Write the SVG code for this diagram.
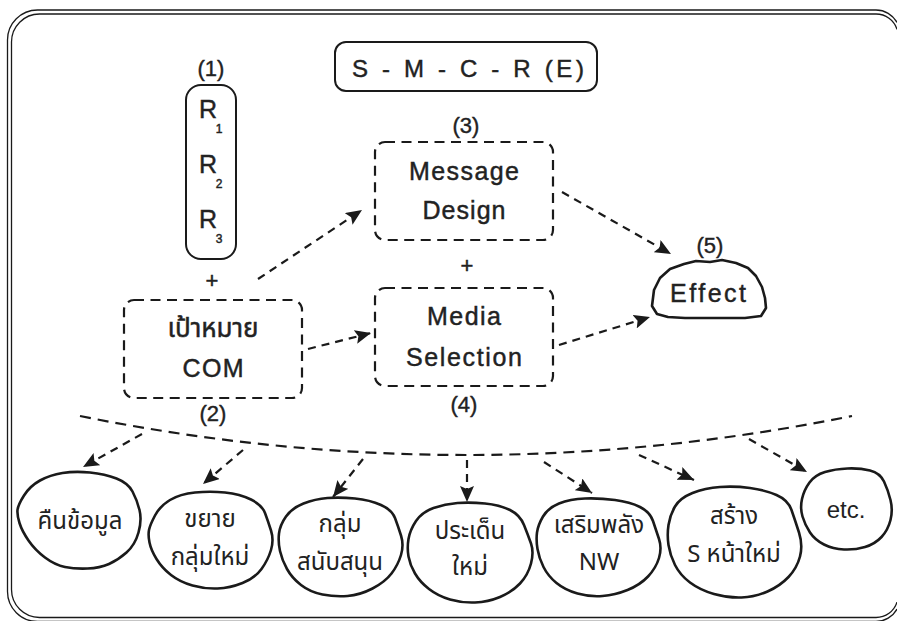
<svg xmlns="http://www.w3.org/2000/svg" width="897" height="621" viewBox="0 0 897 621">
<style>
.frame{fill:none;stroke:#1a1a1a;stroke-width:1.3}
.solid{fill:none;stroke:#1a1a1a;stroke-width:2}
.dbox{fill:none;stroke:#1a1a1a;stroke-width:2.2;stroke-dasharray:10 6.5}
.blob{fill:#fff;stroke:#1a1a1a;stroke-width:2.6;stroke-linejoin:round}
.arr{fill:none;stroke:#1a1a1a;stroke-width:2.2;stroke-dasharray:8 6;marker-end:url(#ah)}
.curve{fill:none;stroke:#1a1a1a;stroke-width:2.2;stroke-dasharray:11 7}
.lat{font-family:"Liberation Sans",Arial,sans-serif;fill:#222;stroke:#222;stroke-width:0.45;text-anchor:middle}
.num{font-family:"Liberation Sans",Arial,sans-serif;fill:#222;stroke:#222;stroke-width:0.4;text-anchor:middle;font-size:22px}
.th{font-family:"Noto Sans Thai","Noto Sans","DejaVu Sans",sans-serif;fill:#222;text-anchor:middle;font-size:24px}
.thb{font-family:"Noto Sans Thai","Noto Sans","DejaVu Sans",sans-serif;fill:#222;stroke:#222;stroke-width:0.5;text-anchor:middle;font-size:26px}
.lt{font-family:"Liberation Sans",Arial,sans-serif;fill:#222;text-anchor:middle;font-size:24px}
</style>
<defs>
<marker id="ah" markerUnits="userSpaceOnUse" markerWidth="17" markerHeight="14" refX="16" refY="7" orient="auto">
<path d="M0,0 L16,7 L0,14 L3,7 Z" fill="#1a1a1a"/>
</marker>
</defs>

<g id="frame">
<path class="frame" d="M897,22.4 A24,24 0 0,0 876,10 L37.5,10 A30,30 0 0,0 7.5,40 L7.5,591.5 A30,30 0 0,0 37.5,621.5 L876,621.5 A24,24 0 0,0 897,609.1"/>
<path class="frame" d="M897,29.4 A22,22 0 0,0 876,14 L39.5,14 A28,28 0 0,0 11.5,42 L11.5,589.5 A28,28 0 0,0 39.5,617.5 L876,617.5 A22,22 0 0,0 897,602.1"/>
</g>

<g id="title">
<rect class="solid" x="335" y="42" width="262" height="49" rx="11"/>
<text class="lat" x="468" y="77" font-size="24" textLength="232" lengthAdjust="spacing">S - M - C - R (E)</text>
</g>

<g id="node1">
<text class="num" x="211" y="76">(1)</text>
<rect class="solid" x="186" y="85" width="50" height="174" rx="15"/>
<text class="lat" x="199" y="118" font-size="25" style="text-anchor:start">R</text>
<text class="lat" x="219" y="133" font-size="12" stroke-width="0.2">1</text>
<text class="lat" x="199" y="173" font-size="25" style="text-anchor:start">R</text>
<text class="lat" x="219" y="188" font-size="12" stroke-width="0.2">2</text>
<text class="lat" x="199" y="228" font-size="25" style="text-anchor:start">R</text>
<text class="lat" x="219" y="243" font-size="12" stroke-width="0.2">3</text>
<text class="lat" x="212" y="288" font-size="22" stroke-width="0.2">+</text>
</g>

<g id="node2">
<rect class="dbox" x="124" y="300" width="178" height="98" rx="10"/>
<text class="thb" x="213" y="337">เป้าหมาย</text>
<text class="lat" x="213" y="377" font-size="25" textLength="61" lengthAdjust="spacing">COM</text>
<text class="num" x="213" y="421">(2)</text>
</g>

<g id="node3">
<text class="num" x="466" y="133">(3)</text>
<rect class="dbox" x="375" y="142" width="178" height="98" rx="10"/>
<text class="lat" x="464" y="180" font-size="25" textLength="110" lengthAdjust="spacing">Message</text>
<text class="lat" x="464" y="219" font-size="25" textLength="83" lengthAdjust="spacing">Design</text>
<text class="lat" x="467" y="273" font-size="22" stroke-width="0.2">+</text>
</g>

<g id="node4">
<rect class="dbox" x="375" y="288" width="178" height="98" rx="10"/>
<text class="lat" x="464" y="325" font-size="25" textLength="74" lengthAdjust="spacing">Media</text>
<text class="lat" x="464" y="366" font-size="25" textLength="116" lengthAdjust="spacing">Selection</text>
<text class="num" x="464" y="412">(4)</text>
</g>

<g id="node5">
<text class="num" x="710" y="253">(5)</text>
<path class="blob" d="M652,306 L654,290 L660,278 L670,269 L684,264 L696,261 L710,262 L722,260 L736,263 L748,268 L756,276 L762,287 L765,298 L766,308 L761,316 L745,318 L725,318 L705,318 L685,318 L668,317 L657,314 Z"/>
<text class="lat" x="708" y="302" font-size="25" textLength="76" lengthAdjust="spacing">Effect</text>
</g>

<g id="connectors">
<line class="arr" x1="258" y1="279" x2="362" y2="210"/>
<line class="arr" x1="308" y1="349" x2="371" y2="333"/>
<line class="arr" x1="562" y1="192" x2="671" y2="254"/>
<line class="arr" x1="559" y1="345" x2="650" y2="317"/>
<path class="curve" d="M80,416 Q466,494 852,416"/>
<line class="arr" x1="142" y1="434" x2="83" y2="467"/>
<line class="arr" x1="243" y1="450" x2="203" y2="484"/>
<line class="arr" x1="363" y1="459" x2="333" y2="497"/>
<line class="arr" x1="467" y1="460" x2="467" y2="502"/>
<line class="arr" x1="544" y1="462" x2="592" y2="493"/>
<line class="arr" x1="639" y1="455" x2="694" y2="480"/>
<line class="arr" x1="749" y1="439" x2="807" y2="472"/>
</g>

<g id="c1">
<path class="blob" d="M17.5,510 Q18,505 24,495.5 Q30,486 40,480.5 Q50,475 62.5,473 Q75,471 90,472.5 Q105,474 116.5,478.5 Q128,483 132.5,491.5 Q137,500 139.5,510 Q142,520 138.5,532.5 Q135,545 126.5,552.5 Q118,560 109,564 Q100,568 87.5,568.5 Q75,569 65,567 Q55,565 45,557.5 Q35,550 28.5,540.5 Q22,531 19.5,523 Q17,515 17.5,510 Z"/>
<text class="th" x="80" y="529">คืนข้อมูล</text>
</g>
<g id="c2">
<path class="blob" d="M149,530 Q150,525 155,515.5 Q160,506 170,500 Q180,494 195,492.5 Q210,491 225,492.5 Q240,494 251,499.5 Q262,505 265,513 Q268,521 271,530.5 Q274,540 271,550 Q268,560 261.5,569 Q255,578 242.5,583 Q230,588 217.5,588.5 Q205,589 192.5,585.5 Q180,582 171,575 Q162,568 156.5,559 Q151,550 149.5,542.5 Q148,535 149,530 Z"/>
<text class="th" x="210" y="527">ขยาย</text>
<text class="th" x="210" y="565">กลุ่มใหม่</text>
</g>
<g id="c3">
<path class="blob" d="M279,533.5 Q280,525 286,516.5 Q292,508 303.5,503.5 Q315,499 327.5,498 Q340,497 355,498.5 Q370,500 381,505 Q392,510 395,518 Q398,526 401,535.5 Q404,545 401,555 Q398,565 391.5,573.5 Q385,582 372.5,588.5 Q360,595 347.5,596 Q335,597 322.5,594.5 Q310,592 301,585 Q292,578 287,569 Q282,560 280,551 Q278,542 279,533.5 Z"/>
<text class="th" x="340" y="532">กลุ่ม</text>
<text class="th" x="340" y="570">สนับสนุน</text>
</g>
<g id="c4">
<path class="blob" d="M408.5,539 Q410,530 416,521 Q422,512 433.5,508 Q445,504 457.5,503 Q470,502 485,503.5 Q500,505 510,510 Q520,515 524,525 Q528,535 531,543.5 Q534,552 531,563.5 Q528,575 520,583.5 Q512,592 500,597 Q488,602 475,602.5 Q462,603 450,599.5 Q438,596 429,589 Q420,582 415,573.5 Q410,565 408.5,556.5 Q407,548 408.5,539 Z"/>
<text class="th" x="470" y="539">ประเด็น</text>
<text class="th" x="470" y="575">ใหม่</text>
</g>
<g id="c5">
<path class="blob" d="M537,532.5 Q538,525 543,516.5 Q548,508 559,503.5 Q570,499 585,498.5 Q600,498 615,500 Q630,502 640,507 Q650,512 653,521 Q656,530 659,539 Q662,548 659,558 Q656,568 648,576.5 Q640,585 627.5,590 Q615,595 602.5,596 Q590,597 577.5,593.5 Q565,590 556.5,583 Q548,576 543.5,567 Q539,558 537.5,549 Q536,540 537,532.5 Z"/>
<text class="th" x="599" y="533">เสริมพลัง</text>
<text class="th" x="599" y="570">NW</text>
</g>
<g id="c6">
<path class="blob" d="M668.5,525 Q670,515 675,506.5 Q680,498 692.5,493 Q705,488 720,487 Q735,486 750,488 Q765,490 776.5,495 Q788,500 791.5,510 Q795,520 799,532.5 Q803,545 800,556.5 Q797,568 788.5,577 Q780,586 767.5,591.5 Q755,597 741.5,597.5 Q728,598 714,594 Q700,590 690,582.5 Q680,575 675,565 Q670,555 668.5,545 Q667,535 668.5,525 Z"/>
<text class="th" x="734" y="524">สร้าง</text>
<text class="th" x="734" y="562">S หน้าใหม่</text>
</g>
<g id="c7">
<path class="blob" d="M802,499 Q804,490 809.5,482.5 Q815,475 825,472 Q835,469 847.5,468.5 Q860,468 870,470.5 Q880,473 884,481.5 Q888,490 890.5,500 Q893,510 890.5,520 Q888,530 881.5,537 Q875,544 865,547 Q855,550 844,549.5 Q833,549 824,544.5 Q815,540 810,532.5 Q805,525 802.5,516.5 Q800,508 802,499 Z"/>
<text class="lt" x="846" y="518" font-size="26">etc.</text>
</g>
</svg>
